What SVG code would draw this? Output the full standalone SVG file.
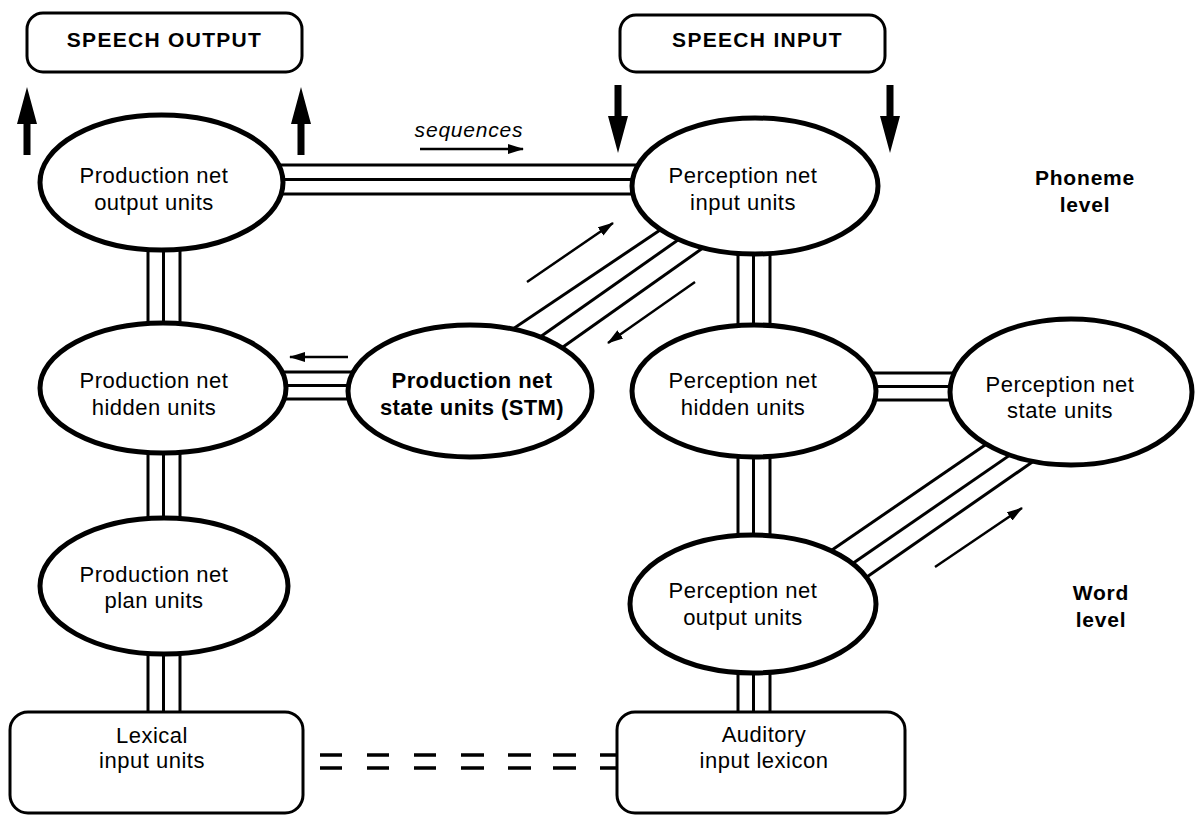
<svg xmlns="http://www.w3.org/2000/svg" width="1200" height="815" viewBox="0 0 1200 815">
<style>
.bg{fill:#fff}
.ell{fill:#fff;stroke:#000;stroke-width:5}
.box{fill:#fff;stroke:#000;stroke-width:3}
.ln{stroke:#000;stroke-width:3;fill:none}
.dash{stroke:#000;stroke-width:3.5;fill:none}
.thin{stroke:#000;stroke-width:2.5;fill:none;marker-end:url(#ah)}
.big{fill:#000}
text{font-family:"Liberation Sans",Arial,Helvetica,sans-serif;fill:#000;text-anchor:middle}
.t{font-size:22px;letter-spacing:0.5px}
.tb{font-size:22px;font-weight:bold;letter-spacing:0.4px}
.hd{font-size:21px;font-weight:bold;letter-spacing:1.3px}
.lv{font-size:21px;font-weight:bold;letter-spacing:0.8px}
.it{font-size:21px;font-style:italic;letter-spacing:0.8px}
</style>
<defs>
<marker id="ah" viewBox="0 0 16 10" refX="15" refY="5" markerWidth="16" markerHeight="10" markerUnits="userSpaceOnUse" orient="auto">
<path d="M0,0 L16,5 L0,10 Z" fill="#000"/>
</marker>
</defs>
<rect class="bg" x="0" y="0" width="1200" height="815"/>

<g id="connectors">
  <!-- prod output <-> perc input -->
  <line class="ln" x1="270" y1="165" x2="645" y2="165"/>
  <line class="ln" x1="270" y1="179.5" x2="645" y2="179.5"/>
  <line class="ln" x1="270" y1="194" x2="645" y2="194"/>
  <!-- prod output -> hidden -->
  <line class="ln" x1="148" y1="240" x2="148" y2="335"/>
  <line class="ln" x1="163.5" y1="240" x2="163.5" y2="335"/>
  <line class="ln" x1="180" y1="240" x2="180" y2="335"/>
  <!-- prod hidden -> plan -->
  <line class="ln" x1="148" y1="440" x2="148" y2="530"/>
  <line class="ln" x1="163.5" y1="440" x2="163.5" y2="530"/>
  <line class="ln" x1="180" y1="440" x2="180" y2="530"/>
  <!-- plan -> lexical -->
  <line class="ln" x1="148" y1="645" x2="148" y2="714"/>
  <line class="ln" x1="163.5" y1="645" x2="163.5" y2="714"/>
  <line class="ln" x1="180" y1="645" x2="180" y2="714"/>
  <!-- prod hidden <-> STM -->
  <line class="ln" x1="270" y1="372" x2="365" y2="372"/>
  <line class="ln" x1="270" y1="385.5" x2="365" y2="385.5"/>
  <line class="ln" x1="270" y1="399" x2="365" y2="399"/>
  <!-- STM <-> perc input -->
  <line class="ln" x1="498" y1="339" x2="675" y2="220"/>
  <line class="ln" x1="523" y1="349" x2="695" y2="228"/>
  <line class="ln" x1="546" y1="359" x2="717" y2="238"/>
  <!-- perc input -> hidden -->
  <line class="ln" x1="738" y1="245" x2="738" y2="335"/>
  <line class="ln" x1="753.5" y1="245" x2="753.5" y2="335"/>
  <line class="ln" x1="770" y1="245" x2="770" y2="335"/>
  <!-- perc hidden -> output -->
  <line class="ln" x1="738" y1="448" x2="738" y2="545"/>
  <line class="ln" x1="753.5" y1="448" x2="753.5" y2="545"/>
  <line class="ln" x1="770" y1="448" x2="770" y2="545"/>
  <!-- perc output -> auditory -->
  <line class="ln" x1="738" y1="665" x2="738" y2="714"/>
  <line class="ln" x1="753.5" y1="665" x2="753.5" y2="714"/>
  <line class="ln" x1="770" y1="665" x2="770" y2="714"/>
  <!-- perc hidden <-> state -->
  <line class="ln" x1="860" y1="373" x2="965" y2="373"/>
  <line class="ln" x1="860" y1="386.5" x2="965" y2="386.5"/>
  <line class="ln" x1="860" y1="400" x2="965" y2="400"/>
  <!-- perc output <-> state -->
  <line class="ln" x1="818.5" y1="559.3" x2="1001.5" y2="433.7"/>
  <line class="ln" x1="838.5" y1="573.3" x2="1023.5" y2="445.7"/>
  <line class="ln" x1="853.5" y1="586.3" x2="1048.5" y2="450.7"/>
  <!-- lexical = = = auditory -->
  <path class="dash" d="M320,755 H342 M367,755 H389 M414,755 H436 M461,755 H484 M508,755 H531 M553,755 H576 M600,755 H619"/>
  <path class="dash" d="M320,768 H342 M367,768 H389 M414,768 H436 M461,768 H484 M508,768 H531 M553,768 H576 M600,768 H619"/>
  <!-- thin direction arrows -->
  <line class="thin" x1="420" y1="149" x2="523" y2="149"/>
  <line class="thin" x1="527" y1="282" x2="613" y2="223"/>
  <line class="thin" x1="695" y1="282" x2="608" y2="343"/>
  <line class="thin" x1="348" y1="357" x2="290" y2="357"/>
  <line class="thin" x1="935" y1="567" x2="1022" y2="508"/>
  <!-- thick arrows -->
  <polygon class="big" points="27,87 37,124 30.5,124 30.5,155 23.5,155 23.5,124 17,124"/>
  <polygon class="big" points="301,87 311,124 304.5,124 304.5,155 297.5,155 297.5,124 291,124"/>
  <polygon class="big" points="618,153 628,116 621.5,116 621.5,85 614.5,85 614.5,116 608,116"/>
  <polygon class="big" points="890,153 900,116 893.5,116 893.5,85 886.5,85 886.5,116 880,116"/>
</g>

<g id="speech-output">
  <rect class="box" x="27" y="13" width="275" height="59" rx="16"/>
  <text class="hd" x="164.5" y="47">SPEECH  OUTPUT</text>
</g>
<g id="speech-input">
  <rect class="box" x="620" y="15" width="265" height="57" rx="16"/>
  <text class="hd" x="757.5" y="47">SPEECH  INPUT</text>
</g>
<text class="it" x="469" y="137">sequences</text>

<g id="prod-output">
  <ellipse class="ell" cx="161.5" cy="182.5" rx="121.5" ry="67.5"/>
  <text class="t" x="154" y="183">Production net</text>
  <text class="t" x="154" y="210">output units</text>
</g>
<g id="prod-hidden">
  <ellipse class="ell" cx="163" cy="388" rx="123" ry="65"/>
  <text class="t" x="154" y="388">Production net</text>
  <text class="t" x="154" y="415">hidden units</text>
</g>
<g id="prod-plan">
  <ellipse class="ell" cx="164" cy="586" rx="124" ry="68"/>
  <text class="t" x="154" y="582">Production net</text>
  <text class="t" x="154" y="608">plan units</text>
</g>
<g id="prod-state">
  <ellipse class="ell" cx="470" cy="391" rx="122" ry="66"/>
  <text class="tb" x="472" y="388">Production net</text>
  <text class="tb" x="472" y="415">state units (STM)</text>
</g>
<g id="perc-input">
  <ellipse class="ell" cx="755" cy="186" rx="123" ry="68"/>
  <text class="t" x="743" y="183">Perception net</text>
  <text class="t" x="743" y="210">input units</text>
</g>
<g id="perc-hidden">
  <ellipse class="ell" cx="754" cy="391" rx="122" ry="66"/>
  <text class="t" x="743" y="388">Perception net</text>
  <text class="t" x="743" y="415">hidden units</text>
</g>
<g id="perc-output">
  <ellipse class="ell" cx="753" cy="604" rx="123" ry="69"/>
  <text class="t" x="743" y="598">Perception net</text>
  <text class="t" x="743" y="625">output units</text>
</g>
<g id="perc-state">
  <ellipse class="ell" cx="1071" cy="392" rx="121" ry="73"/>
  <text class="t" x="1060" y="392">Perception net</text>
  <text class="t" x="1060" y="418">state units</text>
</g>
<g id="lexical">
  <rect class="box" x="10" y="712" width="293" height="101" rx="18"/>
  <text class="t" x="152" y="743">Lexical</text>
  <text class="t" x="152" y="768">input units</text>
</g>
<g id="auditory">
  <rect class="box" x="617" y="712" width="288" height="101" rx="18"/>
  <text class="t" x="764" y="742">Auditory</text>
  <text class="t" x="764" y="768">input lexicon</text>
</g>
<g id="levels">
  <text class="lv" x="1085" y="185">Phoneme</text>
  <text class="lv" x="1085" y="212">level</text>
  <text class="lv" x="1101" y="600">Word</text>
  <text class="lv" x="1101" y="627">level</text>
</g>
</svg>
